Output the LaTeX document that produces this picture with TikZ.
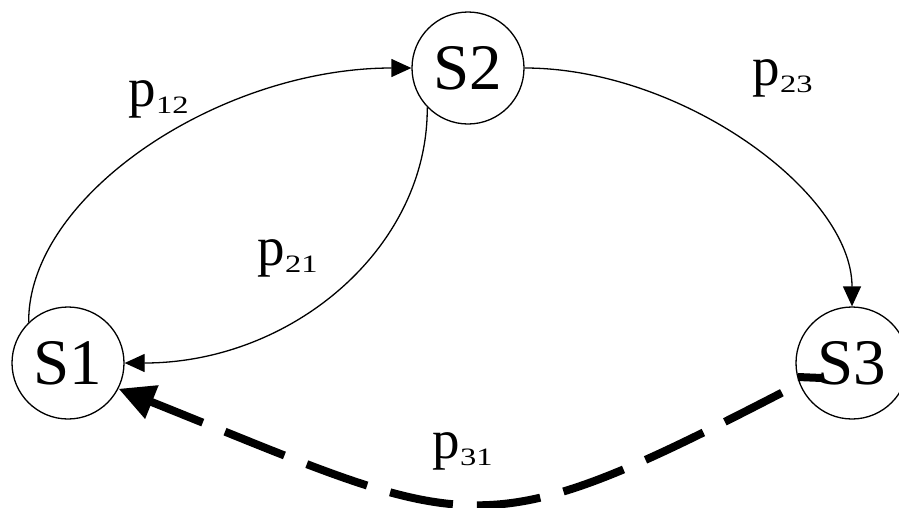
\documentclass[tikz,border=0pt]{standalone}
\usepackage{graphicx}
\usepackage{fontspec}
\setmainfont{Liberation Serif}[Numbers=Lining]
\usetikzlibrary{arrows.meta}
\newcommand\plab[1]{p\kern0.5pt\raisebox{-7pt}{\scalebox{1.3}[1]{\fontsize{25}{28}\selectfont #1}}}
\begin{document}
\begin{tikzpicture}[x=1pt,y=-1pt,
  state/.style={circle,draw,line width=1.3pt,minimum size=112pt,inner sep=0pt,font=\fontsize{65}{70}\selectfont},
  edge/.style={line width=1.3pt,-{Triangle[length=20pt,width=18pt]}},
  dashline/.style={line width=8pt,dash pattern=on 64pt off 24pt,dash phase=40pt,-{Triangle[length=36pt,width=34pt]}},
  lab/.style={anchor=base west,inner sep=0pt,font=\fontsize{55}{60}\selectfont}]
\useasboundingbox (0,0) rectangle (899,507);
\clip (0,0) rectangle (899,507);
\node[state] (s1) at (68,363) {S1};
\node[state] (s2) at (468,68) {S2};
\node[state] (s3) at (852,363) {S3};
\draw[edge] (s1.134) .. controls (28,195) and (220,68) .. (s2.west);
\draw[edge] (s2.224) .. controls (428,248) and (292,363) .. (s1.east);
\draw[edge] (s2.east) .. controls (681,68) and (852,192) .. (s3.north);
\coordinate (h) at (822,378);
\draw[dashline] (h) -- (798,377) .. controls (793,377) and (791,383) .. (789,389)
  .. controls (474,552) and (476,532) .. (s1.-27);
\node[lab] (l12) at (128,106) {\plab{12}};
\node[lab] (l21) at (257,265) {\plab{21}};
\node[lab] (l23) at (752,85) {\plab{23}};
\node[lab] (l31) at (432,458) {\plab{31}};
\end{tikzpicture}
\end{document}
